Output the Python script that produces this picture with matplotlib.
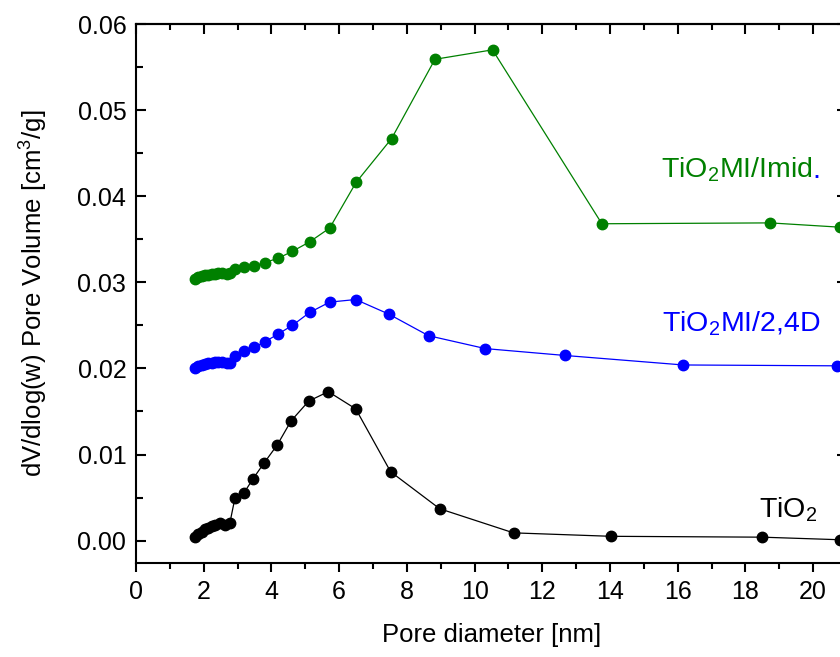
import matplotlib
matplotlib.use("Agg")
import matplotlib.pyplot as plt
from matplotlib.ticker import MultipleLocator

plt.rcParams['font.family'] = ['Liberation Sans', 'DejaVu Sans']
plt.rcParams['mathtext.fontset'] = 'custom'
plt.rcParams['mathtext.rm'] = 'Liberation Sans'
plt.rcParams['mathtext.it'] = 'Liberation Sans:italic'

# Data (pore diameter in nm, dV/dlog(w) in cm3/g)
x_tio2 = [1.74, 1.84, 1.94, 2.04, 2.13, 2.23, 2.33, 2.48, 2.63, 2.77,
          2.92, 3.19, 3.46, 3.78, 4.17, 4.58, 5.10, 5.68, 6.49, 7.52,
          8.97, 11.15, 14.03, 18.49, 20.8]
y_tio2 = [0.0004, 0.0008, 0.0010, 0.0013, 0.0015, 0.0017, 0.0018, 0.0021, 0.0018, 0.0020,
          0.0049, 0.00555, 0.0072, 0.0090, 0.0111, 0.0139, 0.0162, 0.0173, 0.0153, 0.0080,
          0.0037, 0.0009, 0.0005, 0.0004, 0.0001]

x_24d = [1.74, 1.84, 1.94, 2.04, 2.13, 2.23, 2.33, 2.43, 2.53, 2.68, 2.77,
         2.93, 3.19, 3.49, 3.81, 4.20, 4.62, 5.13, 5.72, 6.49, 7.47,
         8.64, 10.32, 12.68, 16.16, 20.7]
y_24d = [0.0200, 0.0203, 0.0204, 0.0205, 0.0206, 0.0206, 0.0207, 0.0207, 0.0207, 0.0206, 0.0206,
         0.0214, 0.0220, 0.02245, 0.0231, 0.0240, 0.0250, 0.0265, 0.0277, 0.0280, 0.0263,
         0.0238, 0.0223, 0.0215, 0.0204, 0.0203]

x_imid = [1.74, 1.84, 1.94, 2.04, 2.13, 2.23, 2.33, 2.43, 2.53, 2.68, 2.77,
          2.93, 3.19, 3.49, 3.81, 4.20, 4.62, 5.13, 5.72, 6.50, 7.55,
          8.83, 10.53, 13.76, 18.73, 20.8]
y_imid = [0.0304, 0.0306, 0.0307, 0.0308, 0.0309, 0.0310, 0.0310, 0.0311, 0.0311, 0.0310, 0.0311,
          0.0315, 0.0318, 0.0319, 0.0323, 0.0328, 0.0336, 0.0347, 0.0363, 0.0416, 0.0467,
          0.0559, 0.0570, 0.0368, 0.0369, 0.0364]

fig = plt.figure(figsize=(8.4, 6.57), dpi=100)
ax = fig.add_axes([136/840, (657-563)/657, 711/840, 539/657])

mk = dict(marker='o', markersize=7.5, linewidth=0.9)
ax.plot(x_tio2, y_tio2, color='black', **mk)
ax.plot(x_24d, y_24d, color='#0000ff', **mk)
ax.plot(x_imid, y_imid, color='#008000', **mk)

ax.set_xlim(0, 21)
ax.set_ylim(-0.0026, 0.06)
ax.xaxis.set_major_locator(MultipleLocator(2))
ax.xaxis.set_minor_locator(MultipleLocator(1))
ax.yaxis.set_major_locator(MultipleLocator(0.01))
ax.yaxis.set_minor_locator(MultipleLocator(0.005))
ax.yaxis.set_major_formatter(matplotlib.ticker.FormatStrFormatter('%.2f'))

for s in ax.spines.values():
    s.set_linewidth(1.5)

ax.tick_params(axis='x', which='both', direction='out', bottom=True, top=False,
               labelsize=18, width=1.5, pad=5.5)
ax.tick_params(axis='x', which='major', length=6.5)
ax.tick_params(axis='x', which='minor', length=4)
ax.tick_params(axis='y', which='both', direction='in', left=True, right=True,
               labelsize=18, width=1.5, pad=7)
ax.tick_params(axis='y', which='major', length=7.5)
ax.tick_params(axis='y', which='minor', length=5)

# top ticks pointing inward
sec = ax.secondary_xaxis('top')
sec.xaxis.set_major_locator(MultipleLocator(2))
sec.xaxis.set_minor_locator(MultipleLocator(1))
sec.tick_params(which='both', direction='in', width=1.5, labeltop=False)
sec.tick_params(which='major', length=7.5)
sec.tick_params(which='minor', length=4)
sec.spines['top'].set_linewidth(1.5)

ax.set_xlabel('Pore diameter [nm]', fontsize=18.5, labelpad=14)
ax.set_ylabel(r'dV/dlog(w) Pore Volume [cm$^3$/g]', fontsize=18.5, labelpad=20)

t1 = ax.text(661, 178, r'TiO$_2$MI/Imid', color='#008000', fontsize=20.5,
             transform=None, va='baseline', ha='left')
t1.set_transform(matplotlib.transforms.IdentityTransform())
t1.set_position((661, 657-178))
ax.annotate('.', xy=(1, 0), xycoords=t1, color='#0000ff', fontsize=20.5,
            va='bottom', ha='left', xytext=(0, 0), textcoords='offset points')

ax.text(662, 657-332, r'TiO$_2$MI/2,4D', color='#0000ff', fontsize=20.5,
        transform=matplotlib.transforms.IdentityTransform(), va='baseline', ha='left')
ax.text(759, 657-517, r'TiO$_2$', color='black', fontsize=20.5,
        transform=matplotlib.transforms.IdentityTransform(), va='baseline', ha='left')

fig.savefig('out.png', dpi=100)
